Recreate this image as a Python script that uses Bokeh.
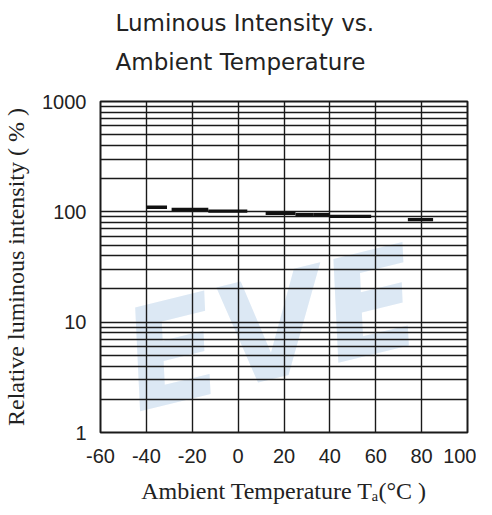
from bokeh.plotting import figure
from bokeh.models import FixedTicker, CustomJSTickFormatter, Range1d, Title
from bokeh.core.properties import value
from bokeh.embed import file_html
from bokeh.resources import INLINE

# data (temperature in °C, relative intensity in %)
x_start = [-40, -29, -13, 12, 25, 33, 40, 74]
x_end = [-31, -13, 4, 25, 33, 40, 58, 85]
intensity = [110, 105, 101.5, 97, 94, 94, 91, 85]

x_ticks = [-60, -40, -20, 0, 20, 40, 60, 80, 100]
y_ticks = [1, 10, 100, 1000]
y_minor = [m * d for d in (1, 10, 100) for m in range(2, 10)]

title_lines = ["Luminous Intensity vs.", "Ambient Temperature"]
x_label = "Ambient Temperature T\u2090(\u00b0C )"
y_label = "Relative luminous intensity ( % )"
watermark = "EVE"

p = figure(width=476, height=506,
           x_range=Range1d(-60, 100), y_range=Range1d(1, 1000),
           y_axis_type="log", output_backend="svg", toolbar_location=None,
           title="\n".join(title_lines),
           min_border_left=93, min_border_right=9,
           min_border_top=0, min_border_bottom=73)

p.title.text_font = "DejaVu Sans"
p.title.text_font_size = "23px"
p.title.text_font_style = "normal"
p.title.text_color = "#222222"
p.title.text_line_height = 1.49
p.title.align = "left"
p.title.offset = 15
p.title.standoff = 15

# blank spacer between the title and the plot frame
spacer = Title(text="\u00a0", text_font_size="2px", text_color="white",
               standoff=15)
p.add_layout(spacer, "above")

# watermark
p.text(x=[-49], y=[4.1], text=[watermark], angle=0.24,
       text_font=value("DejaVu Sans"), text_font_size="140px",
       text_font_style="bold italic", text_color="#dce8f4",
       text_baseline="alphabetic", level="image")

# data segments
p.segment(x0=x_start, y0=intensity, x1=x_end, y1=intensity,
          line_color="#111111", line_width=3.4)

# axes
p.xaxis.ticker = FixedTicker(ticks=x_ticks)
p.yaxis.ticker = FixedTicker(ticks=y_ticks, minor_ticks=y_minor)
p.xaxis.formatter = CustomJSTickFormatter(code="return tick.toFixed(0);")
p.yaxis.formatter = CustomJSTickFormatter(code="return tick.toFixed(0);")

for ax in (p.xaxis[0], p.yaxis[0]):
    ax.axis_line_color = None
    ax.major_tick_line_color = None
    ax.minor_tick_line_color = None
    ax.major_tick_out = 0
    ax.major_tick_in = 0
    ax.minor_tick_out = 0
    ax.minor_tick_in = 0
    ax.major_label_text_font = "Liberation Sans"
    ax.major_label_text_font_size = "20px"
    ax.major_label_text_color = "#222222"
    ax.axis_label_text_font = "Liberation Serif"
    ax.axis_label_text_font_size = "24px"
    ax.axis_label_text_font_style = "normal"
    ax.axis_label_text_color = "#222222"

p.xaxis.axis_label = x_label
p.yaxis.axis_label = y_label
p.xaxis.major_label_standoff = 16
p.xaxis.axis_label_standoff = 12
p.yaxis.major_label_standoff = 14
p.yaxis.axis_label_standoff = 10

# grids
p.xgrid.grid_line_color = "#1a1a1a"
p.xgrid.grid_line_width = 1.4
p.ygrid.grid_line_color = "#1a1a1a"
p.ygrid.grid_line_width = 1.4
p.ygrid.minor_grid_line_color = "#1a1a1a"
p.ygrid.minor_grid_line_width = 1.4

p.outline_line_color = "#1a1a1a"
p.outline_line_width = 2
p.background_fill_color = "white"
p.border_fill_color = "white"

open("out.html", "w").write(file_html(p, INLINE))
